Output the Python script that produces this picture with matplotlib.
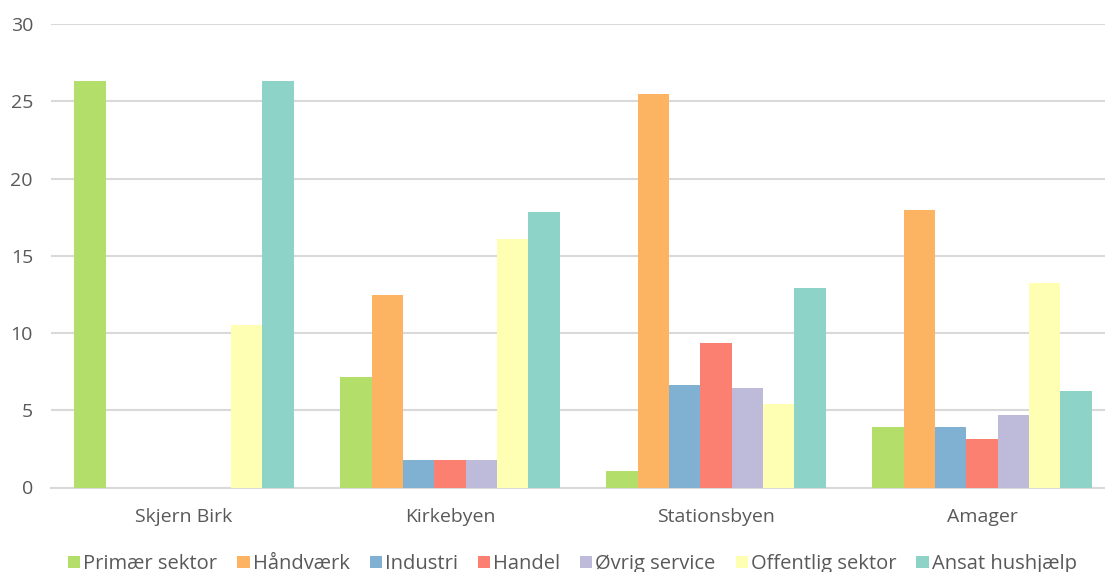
import numpy as np
import matplotlib
matplotlib.use("Agg")
import matplotlib.pyplot as plt

categories = ["Skjern Birk", "Kirkebyen", "Stationsbyen", "Amager"]
series = ["Primær sektor", "Håndværk", "Industri", "Handel",
          "Øvrig service", "Offentlig sektor", "Ansat hushjælp"]
colors = ["#b3de69", "#fdb462", "#80b1d3", "#fb8072",
          "#bebada", "#ffffb3", "#8dd3c7"]

primaer = [26.3, 7.13, 1.07, 3.9]
haandvaerk = [0, 12.48, 25.49, 17.96]
industri = [0, 1.78, 6.63, 3.9]
handel = [0, 1.78, 9.33, 3.12]
oevrig = [0, 1.78, 6.44, 4.67]
offentlig = [10.5, 16.06, 5.38, 13.26]
ansat = [26.3, 17.83, 12.91, 6.25]

values = [primaer, haandvaerk, industri, handel, oevrig, offentlig, ansat]

plt.rcParams['font.family'] = ['Open Sans', 'DejaVu Sans']

W, H = 1105, 572
fig = plt.figure(figsize=(W / 100, H / 100), dpi=100)
ax = fig.add_axes([51 / W, (H - 487.5) / H, (W - 51) / W, (487.5 - 24) / H])

x = np.arange(len(categories))
bw = 0.118
for i, (name, vals) in enumerate(zip(series, values)):
    off = (i - 3) * bw
    ax.bar(x + off, vals, width=bw, color=colors[i], label=name,
           zorder=3, linewidth=0)

ax.set_xlim(-0.5, -0.5 + (W - 51) / 266)
ax.set_ylim(0, 30)
ax.set_yticks(range(0, 31, 5))
ax.set_xticks(x)
ax.set_xticklabels(categories)
ax.grid(axis="y", color="#d9d9d9", linewidth=1.5, zorder=0)
for s in ["top", "right", "left"]:
    ax.spines[s].set_visible(False)
ax.spines["bottom"].set_color("#d9d9d9")
ax.spines["bottom"].set_linewidth(1.5)
ax.tick_params(axis="both", length=0, labelsize=14, colors="#595959")
ax.tick_params(axis="y", pad=13)
ax.tick_params(axis="x", pad=15)

leg = fig.legend(loc="center", bbox_to_anchor=(0.518, (H - 564) / H), ncol=7,
                 frameon=False, fontsize=14.5, handlelength=0.6, handleheight=0.6,
                 handletextpad=0.15, columnspacing=1.0)
for t in leg.get_texts():
    t.set_color("#595959")

fig.savefig("out.png", dpi=100)
